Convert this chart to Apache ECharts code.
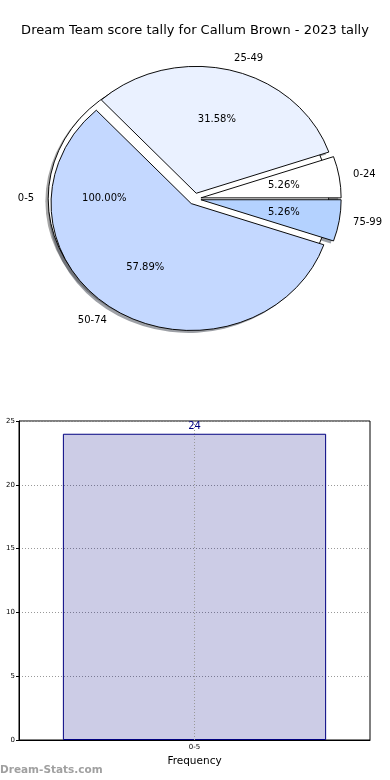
<!DOCTYPE html>
<html><head><meta charset="utf-8">
<script src="https://cdn.jsdelivr.net/npm/echarts@6/dist/echarts.min.js"></script>
<style>html,body{margin:0;padding:0;background:#fff}#c{width:390px;height:780px}</style>
</head><body><div id="c"></div>
<script>
// ---- data ----
const titleText = 'Dream Team score tally for Callum Brown - 2023 tally';
const fullCategories = ['0-5'];
const fullValues = [24];
const pieCategories = ['0-24', '25-49', '50-74', '75-99'];
const pieValues = [1, 6, 11, 1];
const barCategories = ['0-5'];
const barValues = [24];
const yTickValues = [0, 5, 10, 15, 20, 25];
const xAxisName = 'Frequency';
const watermark = 'Dream-Stats.com';

// ---- styles / layout ----
const pieColors = [[255, 255, 255], [234, 241, 255], [196, 216, 255], [180, 210, 255]];
const fullColors = [[255, 255, 255]];
const FONT = 'DejaVu Sans';
const CX = 194.7, CY = 198.8, RX = 140.2, RY = 126.9;
const EXPLODE = 0.045, LABEL_D = 1.1, PCT_D = 0.6;
const SH_X = -2.8, SH_Y = 2.5;

function rgb(c, a) { return a == null ? `rgb(${c[0]},${c[1]},${c[2]})` : `rgba(${c[0]},${c[1]},${c[2]},${a})`; }

function makePie(cats, vals, colors) {
  const tot = vals.reduce((a, b) => a + b, 0);
  const starts = [];
  vals.reduce((acc, v) => { starts.push(acc); return acc + v; }, 0);
  return {
    type: 'custom', coordinateSystem: 'none', silent: true, animation: false,
    data: vals.map(v => [v]),
    renderItem: function (params, api) {
      const i = params.dataIndex;
      const v = api.value(0);
      const a0 = starts[i] / tot * Math.PI * 2;
      const a1 = (starts[i] + v) / tot * Math.PI * 2;
      const mid = (a0 + a1) / 2;
      const c = Math.cos(mid), s = Math.sin(mid);
      const ex = CX + EXPLODE * RX * c, ey = CY - EXPLODE * RY * s;
      const shape = { cx: 0, cy: 0, r0: 0, r: RX, startAngle: -a1, endAngle: -a0, clockwise: true };
      const col = colors[i];
      const pctText = (v / tot * 100).toFixed(2) + '%';
      return {
        type: 'group',
        children: [
          { type: 'sector', x: ex + SH_X, y: ey + SH_Y, scaleY: RY / RX, shape, z2: -10,
            style: { fill: rgb(col.map(k => Math.round(k * 0.3)), 0.5), stroke: null } },
          { type: 'sector', x: ex, y: ey, scaleY: RY / RX, shape, z2: 0,
            style: { fill: rgb(col), stroke: '#000', lineWidth: 1, strokeNoScale: true } },
          { type: 'text', x: ex + LABEL_D * RX * c, y: ey - LABEL_D * RY * s, z2: 50,
            style: { text: cats[i], fill: '#000', font: '10px "DejaVu Sans"',
              align: c >= 0 ? 'left' : 'right', verticalAlign: 'middle' } },
          { type: 'text', x: ex + PCT_D * RX * c, y: ey - PCT_D * RY * s, z2: 50,
            style: { text: pctText, fill: '#000', font: '10px "DejaVu Sans"',
              align: 'center', verticalAlign: 'middle' } }
        ]
      };
    }
  };
}

const chart = echarts.init(document.getElementById('c'), null, { renderer: 'canvas' });
chart.setOption({
  animation: false,
  backgroundColor: '#fff',
  textStyle: { fontFamily: FONT },
  title: { text: titleText, left: 'center', top: 19,
    textStyle: { fontSize: 13, fontWeight: 'normal', color: '#000', fontFamily: FONT } },
  grid: { left: 19, right: 20, top: 421, bottom: 40, show: true, borderColor: '#000', borderWidth: 1 },
  xAxis: {
    type: 'category', data: barCategories,
    name: xAxisName, nameLocation: 'middle', nameGap: 16,
    nameTextStyle: { fontSize: 10.5, color: '#000', fontFamily: FONT },
    axisLine: { lineStyle: { color: '#000' } },
    axisTick: { alignWithLabel: true, length: 3, lineStyle: { color: '#000' } },
    axisLabel: { fontSize: 7, color: '#000', margin: 4, fontFamily: FONT },
    splitLine: { show: false }
  },
  yAxis: {
    type: 'value', min: yTickValues[0], max: yTickValues[yTickValues.length - 1],
    interval: yTickValues[1] - yTickValues[0],
    axisLine: { show: true, lineStyle: { color: '#000' } },
    axisTick: { show: true, length: 3, lineStyle: { color: '#000' } },
    axisLabel: { fontSize: 7, color: '#000', margin: 4, fontFamily: FONT },
    splitLine: { show: true, lineStyle: { type: [1, 2], color: '#999', width: 1 } }
  },
  graphic: [{ type: 'text', left: 0, top: 765,
    style: { text: watermark, fill: '#a0a0a0', font: 'bold 10.5px "DejaVu Sans"' } }],
  series: [
    makePie(fullCategories, fullValues, fullColors),
    makePie(pieCategories, pieValues, pieColors),
    {
      type: 'bar', data: barValues, barWidth: '75%', silent: true,
      itemStyle: { color: 'rgba(0,0,128,0.2)', borderColor: '#000080', borderWidth: 1 },
      label: { show: true, position: 'top', distance: 2, color: '#000080', fontSize: 10, fontFamily: FONT },
      markLine: { silent: true, symbol: 'none', label: { show: false },
        lineStyle: { type: [1, 2], color: '#999', width: 1 },
        data: [{ xAxis: barCategories[0] }] }
    }
  ]
});
</script></body></html>
